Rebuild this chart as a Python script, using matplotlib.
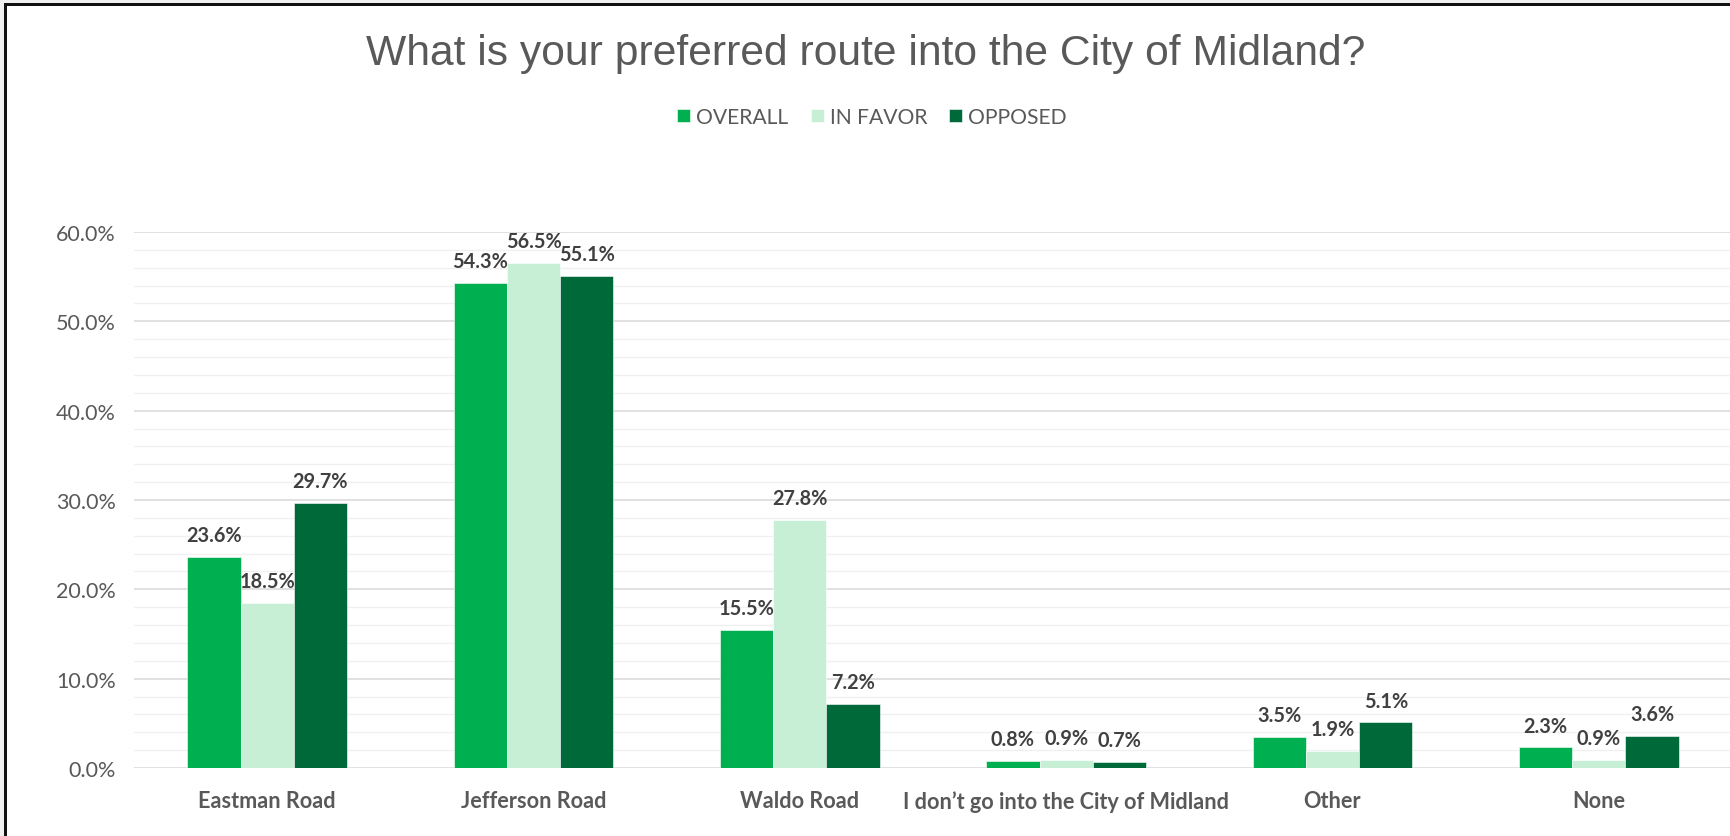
import matplotlib
matplotlib.use("Agg")
import matplotlib.pyplot as plt
from matplotlib.patches import Rectangle
from matplotlib.ticker import MultipleLocator, PercentFormatter
import numpy as np

# Survey results (percent of respondents)
categories = ["Eastman Road", "Jefferson Road", "Waldo Road",
              "I don\u2019t go into the City of Midland", "Other", "None"]
series_names = ["OVERALL", "IN FAVOR", "OPPOSED"]
overall = [23.6, 54.3, 15.5, 0.8, 3.5, 2.3]
in_favor = [18.5, 56.5, 27.8, 0.9, 1.9, 0.9]
opposed = [29.7, 55.1, 7.2, 0.7, 5.1, 3.6]
colors = ["#00B050", "#C6EFD6", "#00693A"]

W, H = 1730, 837
fig = plt.figure(figsize=(W / 100, H / 100), dpi=100)
fig.patch.set_facecolor("white")

ax = fig.add_axes([134 / W, 1 - 769 / H, 1598 / W, (769 - 233) / H])
ax.set_facecolor("white")

x = np.arange(len(categories))
bw = 0.2
text_gray = "#595959"
label_gray = "#404040"

for i, (vals, name, col) in enumerate(zip([overall, in_favor, opposed], series_names, colors)):
    xs = x + (i - 1) * bw
    ax.bar(xs, vals, width=bw, color=col, label=name, zorder=3,
           edgecolor="white", linewidth=0.4)
    for xi, v in zip(xs, vals):
        ax.annotate(f"{v:.1f}%", (xi, v), xytext=(0, 8.5), textcoords="offset points",
                    ha="center", va="bottom", fontsize=14.3, fontweight="bold",
                    color=label_gray, family="Lato", zorder=4, annotation_clip=False)

ax.set_xlim(-0.5, len(categories) - 0.5)
ax.set_ylim(0, 60)
ax.yaxis.set_major_locator(MultipleLocator(10))
ax.yaxis.set_minor_locator(MultipleLocator(2))
ax.yaxis.set_major_formatter(PercentFormatter(decimals=1))
ax.grid(which="major", axis="y", color="#D9D9D9", linewidth=1.1, zorder=0)
ax.grid(which="minor", axis="y", color="#F0F0F0", linewidth=1.0, zorder=0)
ax.set_axisbelow(True)
for s in ax.spines.values():
    s.set_visible(False)

ax.set_xticks(x)
ax.set_xticklabels(categories, fontsize=15.6, fontweight="bold", color=text_gray, family="Lato")
ax.tick_params(axis="x", length=0, pad=16)
ax.tick_params(axis="y", which="both", length=0, pad=13, labelsize=15.5, labelcolor=text_gray)
for lab in ax.get_yticklabels():
    lab.set_family("Lato")

fig.text(866 / W, 1 - 54 / H, "What is your preferred route into the City of Midland?",
         ha="center", va="center", fontsize=30.7, color=text_gray, family="Liberation Sans")

leg = fig.legend(loc="center", bbox_to_anchor=(872 / W, 1 - 118 / H), ncol=3, frameon=False,
                 prop={"family": "Lato", "size": 15.2}, handlelength=0.62, handleheight=0.62,
                 handletextpad=0.28, columnspacing=1.05)
for t in leg.get_texts():
    t.set_color(text_gray)

# Outer frame: pale margin and dark rule along top and left edges
fig.patches.append(Rectangle((0, 1 - 4 / H), 1, 4 / H, transform=fig.transFigure,
                             facecolor="#F0F0F0", edgecolor="none", zorder=10))
fig.patches.append(Rectangle((0, 0), 4 / W, 1, transform=fig.transFigure,
                             facecolor="#F0F0F0", edgecolor="none", zorder=10))
fig.patches.append(Rectangle((4 / W, 1 - 7 / H), 1, 3 / H, transform=fig.transFigure,
                             facecolor="#111111", edgecolor="none", zorder=11))
fig.patches.append(Rectangle((4 / W, 0), 3 / W, 1 - 4 / H, transform=fig.transFigure,
                             facecolor="#111111", edgecolor="none", zorder=11))

fig.savefig("out.png", dpi=100, facecolor="white")
